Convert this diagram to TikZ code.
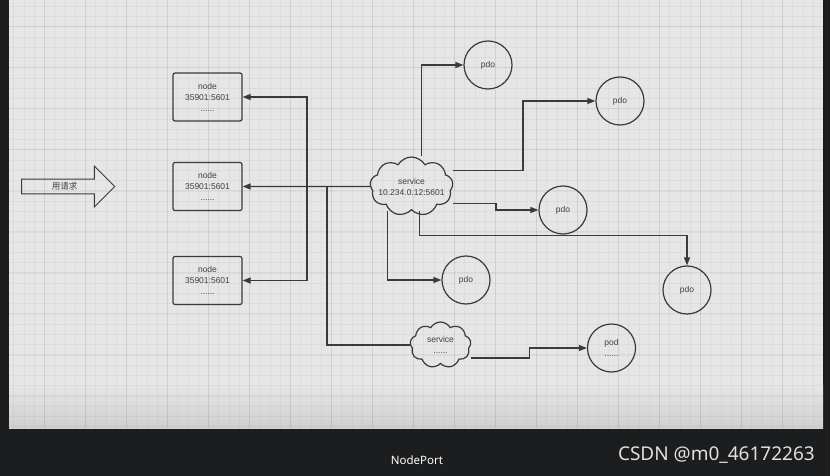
\documentclass[tikz,border=0pt]{standalone}
\usepackage{fontspec}
\setmainfont{Liberation Sans}
\newfontfamily\cjk{Noto Sans CJK SC}
\newfontfamily\wmfont{Noto Sans}
\usetikzlibrary{arrows.meta, shapes.symbols, shapes.arrows}
\definecolor{cframe}{HTML}{1C1D1F}
\definecolor{cpaper}{HTML}{E6E6E6}
\definecolor{cline}{HTML}{3A3A3A}
\definecolor{ctext}{HTML}{404040}
\definecolor{cmark}{HTML}{E0E0E0}

\tikzset{
  hostbox/.style={draw=cline, line width=1.2pt, rounded corners=2pt, minimum width=69pt, minimum height=48pt, align=center, font=\fontsize{8.5}{11}\selectfont, text=ctext},
  podcircle/.style={circle, draw=cline, line width=1.2pt, minimum size=48pt, inner sep=0pt, align=center, font=\fontsize{8.5}{11}\selectfont, text=ctext},
  svccloud/.style={cloud, cloud puffs=9, cloud puff arc=120, cloud ignores aspect, draw=cline, line width=1.2pt, inner sep=0pt,
    label={[align=center, font=\fontsize{8.5}{11}\selectfont, text=ctext]center:#1}},
  reqarrow/.style={single arrow, draw=cline, line width=1pt, single arrow head extend=13pt, single arrow head indent=0pt, minimum height=93pt, inner ysep=3pt, font=\cjk\fontsize{8.5}{10}\selectfont, text=ctext},
  link/.style={draw=cline, line width=1.2pt, -{Triangle[length=8pt,width=6pt]}},
  wire/.style={draw=cline, line width=1.2pt},
}

\begin{document}
\begin{tikzpicture}[x=1pt, y=-1pt]
  \useasboundingbox (0,0) rectangle (830,476);
  % paper and grid
  \fill[cframe] (0,0) rectangle (830,476);
  \fill[cpaper] (9,0) rectangle (823,428);
  \shade[top color=cpaper, bottom color=cpaper!90!black] (9,385) rectangle (823,428);
  \begin{scope}
    \clip (9,0) rectangle (823,428);
    \foreach \k in {0,...,80}{
      \draw[black, opacity=0.035] (3.3+10.25*\k, 0) -- ++(0,428);
    }
    \foreach \k in {0,...,43}{
      \draw[black, opacity=0.035] (9, -14.3+10.25*\k) -- ++(814,0);
    }
    \foreach \k in {0,...,20}{
      \draw[black, opacity=0.055, line width=0.8pt] (3.3+41*\k, 0) -- ++(0,428);
    }
    \foreach \k in {0,...,11}{
      \draw[black, opacity=0.055, line width=0.8pt] (9, -14.3+41*\k) -- ++(814,0);
    }
  \end{scope}

  \node[reqarrow] (req) at (64.5,186.5) {用请求};

  \node[hostbox] (host1) at (207.5,97) {node\\35901:5601\\......};
  \node[hostbox] (host2) at (207.5,186.5) {node\\35901:5601\\......};
  \node[hostbox] (host3) at (207.5,280.5) {node\\35901:5601\\......};

  \node[svccloud={service\\10.234.0.12:5601}, minimum width=83pt, minimum height=59pt] (svc) at (411.5,186.5) {};
  \node[svccloud={service\\......}, minimum width=61pt, minimum height=46pt] (svc2) at (440.5,345) {};

  \node[podcircle] (pdo1) at (488,65) {pdo};
  \node[podcircle] (pdo2) at (620,101) {pdo};
  \node[podcircle] (pdo3) at (563,210) {pdo};
  \node[podcircle] (pdo4) at (687,290) {pdo};
  \node[podcircle] (pdo5) at (466,280) {pdo};
  \node[podcircle] (pod) at (611.5,348) {pod\\......};

  % service to nodes
  \draw[link] (svc.west) -- (host2.east);
  \draw[link] (svc.west) -- ++(-63,0) |- (host1.east);
  \draw[link] (svc.west) -- ++(-63,0) |- (host3.east);
  \draw[wire] (svc.west) -- ++(-43,0) |- (svc2.west);

  % service to pods
  \draw[link] ([xshift=10pt]svc.north) |- (pdo1.west);
  \draw[link] ([yshift=16pt]svc.east) -- ++(70,0) |- (pdo2.west);
  \draw[link] ([yshift=-17pt]svc.east) -- ++(43,0) |- (pdo3.west);
  \draw[link] ([xshift=8pt]svc.south) -- ++(0,25) -| (pdo4.north);
  \draw[link] ([xshift=-24pt]svc.south) |- (pdo5.west);
  \draw[link] ([yshift=-13pt]svc2.east) -- ++(58,0) |- (pod.west);

  \node[font=\wmfont\fontsize{11.5}{12}\selectfont, text=white] (caption) at (417,460) {NodePort};
  \node[font=\wmfont\fontsize{19}{20}\selectfont, text=cmark, anchor=east, inner sep=0pt] (mark) at (815,455) {CSDN @m0\_46172263};
\end{tikzpicture}
\end{document}
